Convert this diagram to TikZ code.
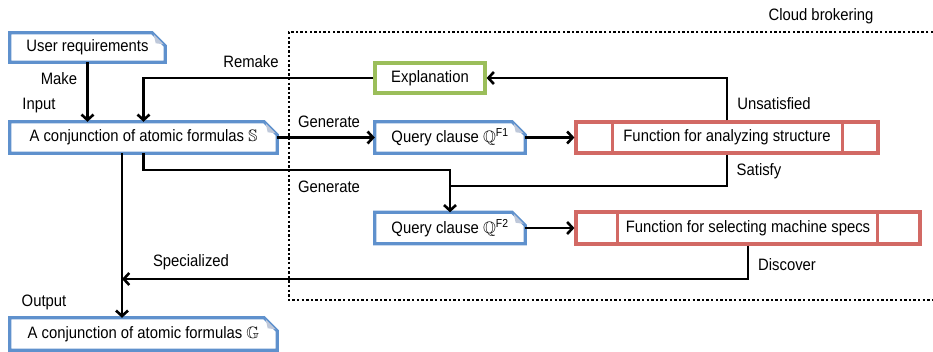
\documentclass[tikz,border=0pt]{standalone}
\usepackage{amssymb}
\usepackage{fontspec}
\setmainfont[FakeStretch=0.9]{Liberation Sans}
\usetikzlibrary{arrows.meta,calc}
\definecolor{docblue}{RGB}{95,145,205}
\definecolor{foldfill}{RGB}{190,200,218}
\definecolor{expgreen}{RGB}{155,190,90}
\definecolor{funcred}{RGB}{210,105,100}
\tikzset{
  every node/.style={font=\fontsize{16.5}{18}\selectfont},
  box/.style={inner sep=0pt, minimum height=#1},
  docbox/.style={box=31pt, draw=none},
  lbl/.style={inner sep=0pt},
  arr/.style={-{Straight Barb[length=5.5pt,width=12pt]}, line width=2.6pt},
  conn/.style={line width=2.6pt},
}
\newcommand{\docshape}[1]{%
  \draw[docblue, line width=3.2pt, line join=miter]
    (#1.north west) -- ($(#1.north east)+(-13pt,0)$) -- ($(#1.north east)+(0,-13pt)$)
    -- (#1.south east) -- (#1.south west) -- cycle;
  \fill[foldfill] ($(#1.north east)+(-11.5pt,-1.6pt)$) -- ($(#1.north east)+(-9.5pt,-10.5pt)$)
    -- ($(#1.north east)+(-1.6pt,-11.5pt)$) -- cycle;
}
\begin{document}
\begin{tikzpicture}[x=1pt,y=-1pt]
\useasboundingbox (0,0) rectangle (933,352);
% cloud brokering region
\draw[line width=2.6pt, dash pattern=on 2.4pt off 2.2pt] (933,32) -- (289,32) -- (289,300) -- (933,300);
\node[lbl] (cb) at (821,16) {Cloud brokering};
% nodes
\node[docbox, minimum width=155pt, minimum height=29pt] (ur) at (87.5,47.5) {User requirements};
\node[docbox, minimum width=267pt] (S) at (143.5,137.5) {A conjunction of atomic formulas $\mathbb{S}$};
\node[box=30pt, minimum width=110pt, draw=expgreen, line width=3.2pt] (ex) at (430,78) {Explanation};
\node[docbox, minimum width=150pt] (q1) at (450,137.5) {Query clause $\mathbb{Q}$\textsuperscript{F1}};
\node[box=31pt, minimum width=302pt, draw=funcred, line width=3.2pt] (fa) at (727,137.5) {Function for analyzing structure};
\node[docbox, minimum width=150pt] (q2) at (450,228) {Query clause $\mathbb{Q}$\textsuperscript{F2}};
\node[box=32pt, minimum width=344pt, draw=funcred, line width=3.2pt] (fs) at (748,228) {Function for selecting machine specs};
\node[docbox, minimum width=267pt, minimum height=32pt] (G) at (143.5,334) {A conjunction of atomic formulas $\mathbb{G}$};
\docshape{ur}\docshape{S}\docshape{q1}\docshape{q2}\docshape{G}
% function box dividers
\draw[funcred, line width=3.2pt] ($(fa.north west)+(38pt,0)$) -- ($(fa.south west)+(38pt,0)$);
\draw[funcred, line width=3.2pt] ($(fa.north east)+(-37pt,0)$) -- ($(fa.south east)+(-37pt,0)$);
\draw[funcred, line width=3.2pt] ($(fs.north west)+(43pt,0)$) -- ($(fs.south west)+(43pt,0)$);
\draw[funcred, line width=3.2pt] ($(fs.north east)+(-44pt,0)$) -- ($(fs.south east)+(-44pt,0)$);
% coordinates
\coordinate (g2) at (450,170);
\coordinate (g3) at (450,186);
\coordinate (d) at (122,279);
% connectors
\draw[arr] (ur.south) -- (ur.south |- S.north);
\draw[arr] (ex.west) -| (S.north);
\draw[arr] (S.east) -- (q1.west);
\draw[arr] (S.south) |- (g2) -- (q2.north);
\draw[arr] (q1.east) -- (fa.west);
\draw[arr] (fa.north) |- (ex.east);
\draw[conn] (fa.south) |- (g3);
\draw[arr] (q2.east) -- (fs.west);
\draw[arr] (fs.south) |- (d);
\draw[arr] (S.south -| d) -- (G.north -| d);
% labels
\node[lbl] (lmake) at (59,79) {Make};
\node[lbl] (linput) at (39,106) {Input};
\node[lbl] (lremake) at (251,62) {Remake};
\node[lbl] (lgen1) at (329,122) {Generate};
\node[lbl] (lgen2) at (329,187) {Generate};
\node[lbl] (lunsat) at (774,104) {Unsatisfied};
\node[lbl] (lsat) at (759,171) {Satisfy};
\node[lbl] (ldisc) at (787,265) {Discover};
\node[lbl] (lspec) at (191,262) {Specialized};
\node[lbl] (lout) at (44,302) {Output};
\end{tikzpicture}
\end{document}
